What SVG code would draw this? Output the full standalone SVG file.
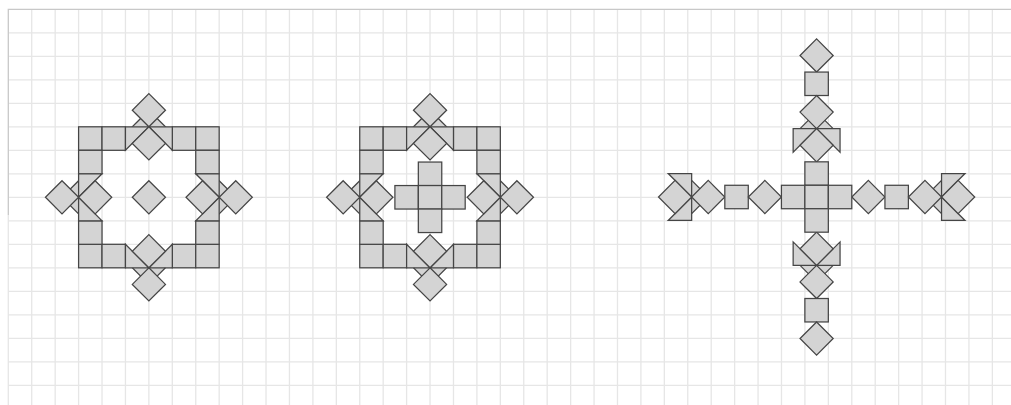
<svg xmlns="http://www.w3.org/2000/svg" xmlns:xlink="http://www.w3.org/1999/xlink" width="1011" height="405" viewBox="0 0 1011 405">
<style>
.grid{fill:none;stroke:#e6e6e6;stroke-width:1.3}
.border{fill:none;stroke:#c8c8c8;stroke-width:1.3}
.sh{fill:#d4d4d4;stroke:#454545;stroke-width:1.25;stroke-linejoin:miter}
</style>
<defs>
<polygon id="d" class="sh" points="0,-16.58 16.58,0 0,16.58 -16.58,0"/>
</defs>
<rect width="1011" height="405" fill="#ffffff"/>
<g id="grid">
<path class="grid" d="M8.3 215V405M31.73 9.3V405M55.16 9.3V405M78.59 9.3V405M102.02 9.3V405M125.45 9.3V405M148.88 9.3V405M172.31 9.3V405M195.74 9.3V405M219.17 9.3V405M242.6 9.3V405M266.03 9.3V405M289.46 9.3V405M312.89 9.3V405M336.32 9.3V405M359.75 9.3V405M383.18 9.3V405M406.61 9.3V405M430.04 9.3V405M453.47 9.3V405M476.9 9.3V405M500.33 9.3V405M523.76 9.3V405M547.19 9.3V405M570.62 9.3V405M594.05 9.3V405M617.48 9.3V405M640.91 9.3V405M664.34 9.3V405M687.77 9.3V405M711.2 9.3V405M734.63 9.3V405M758.06 9.3V405M781.49 9.3V405M804.92 9.3V405M828.35 9.3V405M851.78 9.3V405M875.21 9.3V405M898.64 9.3V405M922.07 9.3V405M945.5 9.3V405M968.93 9.3V405M992.36 9.3V405M8.3 32.8H1011M8.3 56.3H1011M8.3 79.8H1011M8.3 103.3H1011M8.3 126.8H1011M8.3 150.3H1011M8.3 173.8H1011M8.3 197.3H1011M8.3 220.8H1011M8.3 244.3H1011M8.3 267.8H1011M8.3 291.3H1011M8.3 314.8H1011M8.3 338.3H1011M8.3 361.8H1011M8.3 385.3H1011"/>
<path class="border" d="M8.3 215V9.3H1011"/>
</g>
<g id="figure1">
<use xlink:href="#d" x="148.88" y="126.8"/>
<use xlink:href="#d" x="148.88" y="267.8"/>
<use xlink:href="#d" x="78.59" y="197.3"/>
<use xlink:href="#d" x="219.17" y="197.3"/>
<rect class="sh" x="78.59" y="126.8" width="23.43" height="23.5"/>
<rect class="sh" x="102.02" y="126.8" width="23.43" height="23.5"/>
<rect class="sh" x="172.31" y="126.8" width="23.43" height="23.5"/>
<rect class="sh" x="195.74" y="126.8" width="23.43" height="23.5"/>
<rect class="sh" x="78.59" y="244.3" width="23.43" height="23.5"/>
<rect class="sh" x="102.02" y="244.3" width="23.43" height="23.5"/>
<rect class="sh" x="172.31" y="244.3" width="23.43" height="23.5"/>
<rect class="sh" x="195.74" y="244.3" width="23.43" height="23.5"/>
<rect class="sh" x="78.59" y="150.3" width="23.43" height="23.5"/>
<rect class="sh" x="78.59" y="220.8" width="23.43" height="23.5"/>
<rect class="sh" x="195.74" y="150.3" width="23.43" height="23.5"/>
<rect class="sh" x="195.74" y="220.8" width="23.43" height="23.5"/>
<polygon class="sh" points="148.88,126.8 125.45,126.8 125.45,150.3"/>
<polygon class="sh" points="148.88,126.8 172.31,126.8 172.31,150.3"/>
<polygon class="sh" points="148.88,267.8 125.45,267.8 125.45,244.3"/>
<polygon class="sh" points="148.88,267.8 172.31,267.8 172.31,244.3"/>
<polygon class="sh" points="78.59,197.3 78.59,173.8 102.02,173.8"/>
<polygon class="sh" points="78.59,197.3 78.59,220.8 102.02,220.8"/>
<polygon class="sh" points="219.17,197.3 219.17,173.8 195.74,173.8"/>
<polygon class="sh" points="219.17,197.3 219.17,220.8 195.74,220.8"/>
<use xlink:href="#d" x="148.88" y="110.22"/>
<use xlink:href="#d" x="148.88" y="143.38"/>
<use xlink:href="#d" x="148.88" y="284.38"/>
<use xlink:href="#d" x="148.88" y="251.22"/>
<use xlink:href="#d" x="62.01" y="197.3"/>
<use xlink:href="#d" x="95.17" y="197.3"/>
<use xlink:href="#d" x="235.75" y="197.3"/>
<use xlink:href="#d" x="202.59" y="197.3"/>
<use xlink:href="#d" x="148.88" y="197.3"/>
</g>
<g id="figure2">
<use xlink:href="#d" x="430.04" y="126.8"/>
<use xlink:href="#d" x="430.04" y="267.8"/>
<use xlink:href="#d" x="359.75" y="197.3"/>
<use xlink:href="#d" x="500.33" y="197.3"/>
<rect class="sh" x="359.75" y="126.8" width="23.43" height="23.5"/>
<rect class="sh" x="383.18" y="126.8" width="23.43" height="23.5"/>
<rect class="sh" x="453.47" y="126.8" width="23.43" height="23.5"/>
<rect class="sh" x="476.9" y="126.8" width="23.43" height="23.5"/>
<rect class="sh" x="359.75" y="244.3" width="23.43" height="23.5"/>
<rect class="sh" x="383.18" y="244.3" width="23.43" height="23.5"/>
<rect class="sh" x="453.47" y="244.3" width="23.43" height="23.5"/>
<rect class="sh" x="476.9" y="244.3" width="23.43" height="23.5"/>
<rect class="sh" x="359.75" y="150.3" width="23.43" height="23.5"/>
<rect class="sh" x="359.75" y="220.8" width="23.43" height="23.5"/>
<rect class="sh" x="476.9" y="150.3" width="23.43" height="23.5"/>
<rect class="sh" x="476.9" y="220.8" width="23.43" height="23.5"/>
<polygon class="sh" points="430.04,126.8 406.61,126.8 406.61,150.3"/>
<polygon class="sh" points="430.04,126.8 453.47,126.8 453.47,150.3"/>
<polygon class="sh" points="430.04,267.8 406.61,267.8 406.61,244.3"/>
<polygon class="sh" points="430.04,267.8 453.47,267.8 453.47,244.3"/>
<polygon class="sh" points="359.75,197.3 359.75,173.8 383.18,173.8"/>
<polygon class="sh" points="359.75,197.3 359.75,220.8 383.18,220.8"/>
<polygon class="sh" points="500.33,197.3 500.33,173.8 476.9,173.8"/>
<polygon class="sh" points="500.33,197.3 500.33,220.8 476.9,220.8"/>
<use xlink:href="#d" x="430.04" y="110.22"/>
<use xlink:href="#d" x="430.04" y="143.38"/>
<use xlink:href="#d" x="430.04" y="284.38"/>
<use xlink:href="#d" x="430.04" y="251.22"/>
<use xlink:href="#d" x="343.17" y="197.3"/>
<use xlink:href="#d" x="376.33" y="197.3"/>
<use xlink:href="#d" x="516.91" y="197.3"/>
<use xlink:href="#d" x="483.75" y="197.3"/>
<rect class="sh" x="418.33" y="162.05" width="23.43" height="23.5"/>
<rect class="sh" x="394.9" y="185.55" width="23.43" height="23.5"/>
<rect class="sh" x="418.33" y="185.55" width="23.43" height="23.5"/>
<rect class="sh" x="441.76" y="185.55" width="23.43" height="23.5"/>
<rect class="sh" x="418.33" y="209.05" width="23.43" height="23.5"/>
</g>
<g id="figure3">
<use xlink:href="#d" x="691.66" y="197"/>
<use xlink:href="#d" x="941.55" y="197"/>
<use xlink:href="#d" x="816.6" y="128.67"/>
<use xlink:href="#d" x="816.6" y="265.34"/>
<polygon class="sh" points="691.66,197 691.66,173.55 668.21,173.55"/>
<polygon class="sh" points="691.66,197 691.66,220.45 668.21,220.45"/>
<polygon class="sh" points="941.55,197 941.55,173.55 965,173.55"/>
<polygon class="sh" points="941.55,197 941.55,220.45 965,220.45"/>
<polygon class="sh" points="816.6,128.67 793.15,128.67 793.15,152.12"/>
<polygon class="sh" points="816.6,128.67 840.05,128.67 840.05,152.12"/>
<polygon class="sh" points="816.6,265.34 793.15,265.34 793.15,241.89"/>
<polygon class="sh" points="816.6,265.34 840.05,265.34 840.05,241.89"/>
<use xlink:href="#d" x="675.08" y="197"/>
<use xlink:href="#d" x="708.24" y="197"/>
<rect class="sh" x="724.82" y="185.28" width="23.45" height="23.45"/>
<use xlink:href="#d" x="764.85" y="197"/>
<use xlink:href="#d" x="868.36" y="197"/>
<rect class="sh" x="884.94" y="185.28" width="23.45" height="23.45"/>
<use xlink:href="#d" x="924.97" y="197"/>
<use xlink:href="#d" x="958.13" y="197"/>
<use xlink:href="#d" x="816.6" y="55.48"/>
<rect class="sh" x="804.88" y="72.06" width="23.45" height="23.45"/>
<use xlink:href="#d" x="816.6" y="112.09"/>
<use xlink:href="#d" x="816.6" y="145.25"/>
<use xlink:href="#d" x="816.6" y="248.76"/>
<use xlink:href="#d" x="816.6" y="281.92"/>
<rect class="sh" x="804.88" y="298.5" width="23.45" height="23.45"/>
<use xlink:href="#d" x="816.6" y="338.53"/>
<rect class="sh" x="804.88" y="161.83" width="23.45" height="23.45"/>
<rect class="sh" x="781.43" y="185.28" width="23.45" height="23.45"/>
<rect class="sh" x="804.88" y="185.28" width="23.45" height="23.45"/>
<rect class="sh" x="828.33" y="185.28" width="23.45" height="23.45"/>
<rect class="sh" x="804.88" y="208.73" width="23.45" height="23.45"/>
</g>
</svg>
